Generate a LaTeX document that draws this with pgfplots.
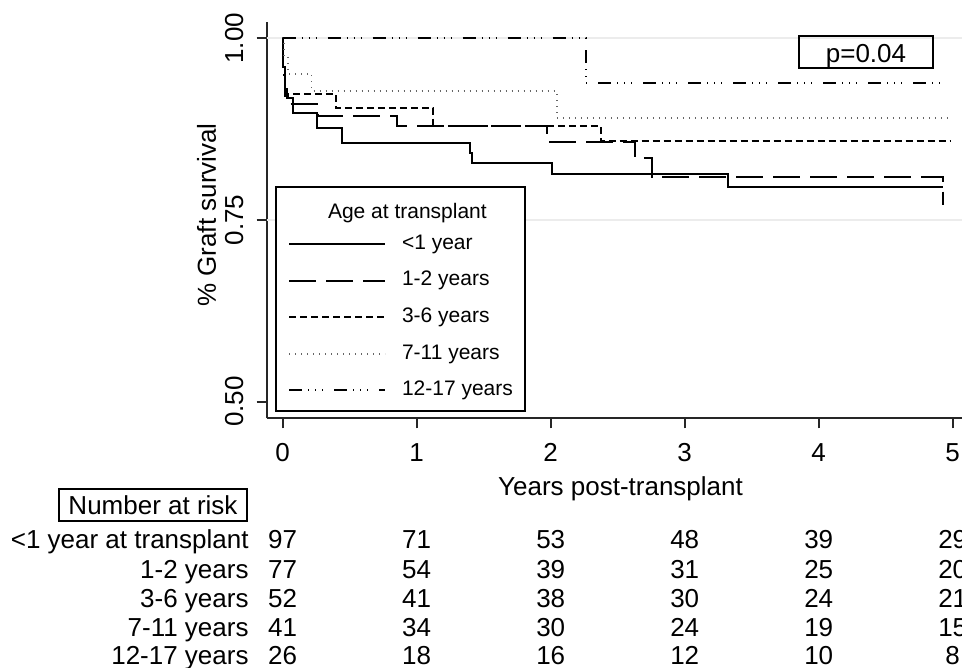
\documentclass[border=0pt]{standalone}
\usepackage{fontspec}
\setmainfont{Liberation Sans}
\usepackage{pgfplots}
\usepackage{pgfplotstable}
\pgfplotsset{compat=1.18}

% Kaplan-Meier step data (x = years, y = survival from x onward)
\pgfplotstableread{
x y
0 1
0.005 0.96
0.015 0.93
0.030 0.918
0.078 0.897
0.254 0.876
0.440 0.8555
1.398 0.842
1.410 0.828
2.007 0.813
3.325 0.795
4.930 0.795
}\grpA
\pgfplotstableread{
x y
0 1
0.005 0.95
0.020 0.92
0.050 0.909
0.266 0.8934
0.855 0.8793
1.970 0.8577
2.629 0.835
2.754 0.8095
4.930 0.8095
4.930 0.7705
}\grpB
\pgfplotstableread{
x y
0 1
0.005 0.962
0.017 0.923
0.395 0.904
1.124 0.879
2.375 0.858
4.980 0.858
}\grpC
\pgfplotstableread{
x y
0 1
0.010 0.976
0.040 0.951
0.216 0.927
2.045 0.890
4.980 0.890
}\grpD
\pgfplotstableread{
x y
0 1
2.263 0.939
4.930 0.939
}\grpE

\newcommand{\bigf}{\fontsize{13}{15.6}\selectfont}
\newcommand{\legf}{\fontsize{10.5}{12.6}\selectfont}

\begin{document}
\begin{tikzpicture}
\begin{axis}[
  at={(133.35pt,124.85pt)}, anchor=south west,
  scale only axis, width=356.4pt, height=198.15pt,
  xmin=-0.1194, xmax=5.2, ymin=0.4769, ymax=1.0224,
  axis x line*=bottom, axis y line*=left,
  axis line style={line width=1pt, black!85},
  tick align=outside, major tick length=5pt,
  tick style={line width=1pt, black!85},
  xtick={0,1,2,3,4,5}, xticklabels={0,1,2,3,4,5},
  ytick={0.5,0.75,1}, yticklabels={0.50,0.75,1.00},
  tick label style={font=\bigf},
  xticklabel style={inner sep=0pt, anchor=north, yshift=-7.4pt},
  yticklabel style={xshift=-6.5pt, rotate=90, anchor=south, inner sep=0pt},
  extra y ticks={0.75,1}, extra y tick labels={},
  extra y tick style={grid=major, major tick length=0pt},
  major grid style={line width=1pt, gray!15},
  legend style={at={(0.01165,0.5862)}, anchor=north west, draw=black,
    line width=1pt, fill=white, inner xsep=6pt, inner ysep=5.3pt,
    font=\legf, row sep=8.5pt, column sep=8pt,
    nodes={inner sep=0pt, text height=7.6pt, text depth=2.2pt}},
  legend cell align=left,
  legend image code/.code={\draw[#1] (0pt,0pt) -- (48pt,0pt);},
]
\addlegendimage{empty legend}
\addlegendentry{\hspace*{-37pt}\raisebox{-3pt}{Age at transplant}}
\addplot[const plot, black, line width=1pt] table {\grpA};
\addlegendentry{<1 year}
\addplot[const plot, black, line width=1pt, dash pattern=on 13.5pt off 5pt] table {\grpB};
\addlegendentry{1-2 years}
\addplot[const plot, black, line width=1pt, dash pattern=on 3.5pt off 2pt] table {\grpC};
\addlegendentry{3-6 years}
\addplot[const plot, black!60, line width=0.8pt, dash pattern=on 0.5pt off 2.5pt] table {\grpD};
\addlegendentry{7-11 years}
\addplot[const plot, black, line width=1pt, dash pattern=on 6.5pt off 3pt on 0.5pt off 3pt on 0.5pt off 3pt on 0.5pt off 5.5pt] table {\grpE};
\addlegendentry{12-17 years}
\end{axis}

\begin{scope}[x=0.5pt, y=-0.5pt, shift={(0pt,334pt)}]
  % y label
  \node[rotate=90, anchor=center, inner sep=0pt, font=\bigf] at (206.5,215) {\% Graft survival};
  % x label
  \node[anchor=base, inner sep=0pt, font=\bigf] at (620.5,495.6) {Years post-transplant};
  % p value
  \draw[line width=1pt] (799,36) rectangle (933.3,68.3);
  \node[anchor=base, inner sep=0pt, font=\bigf] at (866,62.7) {p=0.04};
  % number at risk
  \draw[line width=1pt] (59,489) rectangle (247,521);
  \node[anchor=base, inner sep=0pt, font=\bigf] at (153,515) {Number at risk};
  \foreach \lab/\yy/\a/\b/\c/\d/\e/\f in {
      <1 year at transplant/548.3/97/71/53/48/39/29,
      1-2 years/578.3/77/54/39/31/25/20,
      3-6 years/607.3/52/41/38/30/24/21,
      7-11 years/636.3/41/34/30/24/19/15,
      12-17 years/664.3/26/18/16/12/10/8}{
    \node[anchor=base east, inner sep=0pt, font=\bigf] at (249,\yy) {\lab};
    \node[anchor=base, inner sep=0pt, font=\bigf] at (282.7,\yy) {\a};
    \node[anchor=base, inner sep=0pt, font=\bigf] at (416.7,\yy) {\b};
    \node[anchor=base, inner sep=0pt, font=\bigf] at (550.7,\yy) {\c};
    \node[anchor=base, inner sep=0pt, font=\bigf] at (684.7,\yy) {\d};
    \node[anchor=base, inner sep=0pt, font=\bigf] at (818.7,\yy) {\e};
    \node[anchor=base, inner sep=0pt, font=\bigf] at (952.7,\yy) {\f};
  }
\end{scope}

\pgfresetboundingbox
\useasboundingbox (0pt,0pt) rectangle (481pt,334pt);
\end{tikzpicture}
\end{document}
